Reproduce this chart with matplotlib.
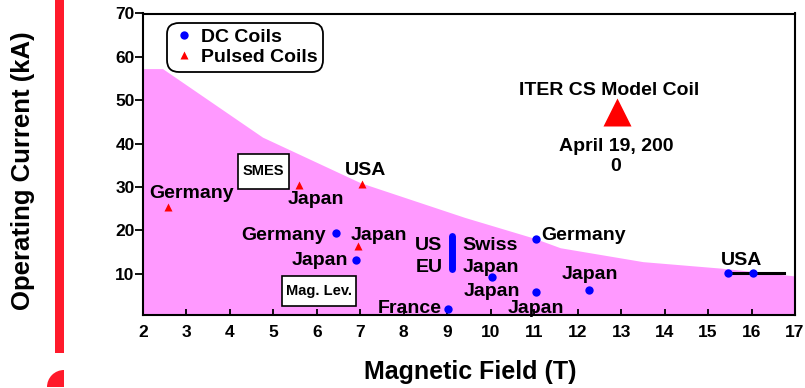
import matplotlib
matplotlib.use("Agg")
import matplotlib.pyplot as plt
from matplotlib.lines import Line2D
from matplotlib.patches import Rectangle, Wedge

plt.rcParams['font.family'] = ['Liberation Sans', 'DejaVu Sans']
plt.rcParams['font.weight'] = 'bold'

# Envelope of achieved conductor performance
envelope_field = [2.0, 2.45, 4.75, 7.0, 9.4, 11.0, 11.6, 13.5, 15.3, 17.0]
envelope_current = [57.3, 57.3, 41.5, 31.0, 23.0, 18.2, 16.0, 12.8, 11.3, 9.5]

# DC coils
dc_field = [6.43, 6.89, 9.02, 10.02, 11.03, 11.03, 12.25, 15.45, 16.03]
dc_current = [19.5, 13.1, 1.9, 9.2, 18.1, 5.8, 6.3, 10.2, 10.2]

# Pulsed coils
pulsed_field = [2.57, 5.59, 7.03, 6.95]
pulsed_current = [25.5, 30.5, 30.7, 16.3]

# ITER CS Model Coil
iter_field = [12.9]
iter_current = [47.3]

# US / EU range and USA extension line
us_eu_field = [9.1, 9.1]
us_eu_current = [11.0, 18.8]
usa_field = [15.45, 16.75]
usa_current = [10.2, 10.2]

x_ticks = list(range(2, 18))
y_ticks = [10, 20, 30, 40, 50, 60, 70]

W, H = 805, 388
fig = plt.figure(figsize=(W / 100, H / 100), dpi=100)
ax = fig.add_axes([143 / W, (H - 315) / H, (795 - 143) / W, (315 - 13.5) / H])

ax.fill_between(envelope_field, 0, envelope_current, color='#ff99ff', lw=0, zorder=1)

ax.plot(usa_field, usa_current, color='black', lw=2.2, zorder=3)
ax.plot(us_eu_field, us_eu_current, color='#0000ff', lw=5, solid_capstyle='round', zorder=3)
ax.plot(dc_field, dc_current, 'o', color='#0000ff', ms=6, mec='none', zorder=4)
ax.plot(pulsed_field, pulsed_current, '^', color='#ff0000', ms=6, mec='none', zorder=4)
ax.plot(iter_field, iter_current, '^', color='#ff0000', ms=20, mec='none', zorder=4)

fs = 14
labels = [
    ("Germany", 3.11, 27.5, 'center'),
    ("Japan", 5.98, 26.1, 'center'),
    ("USA", 7.13, 32.7, 'center'),
    ("Germany", 6.2, 17.85, 'right'),
    ("Japan", 6.77, 17.85, 'left'),
    ("Japan", 6.72, 12.1, 'right'),
    ("US", 8.89, 15.5, 'right'),
    ("EU", 8.89, 10.3, 'right'),
    ("Swiss", 9.35, 15.5, 'left'),
    ("Japan", 9.35, 10.3, 'left'),
    ("Japan", 10.02, 4.9, 'center'),
    ("Germany", 11.16, 17.7, 'left'),
    ("Japan", 11.05, 1.06, 'center'),
    ("Japan", 12.29, 8.77, 'center'),
    ("France", 8.87, 1.06, 'right'),
    ("USA", 15.77, 12.07, 'center'),
    ("ITER CS Model Coil", 12.73, 51.3, 'center'),
    ("April 19, 200", 12.88, 38.2, 'center'),
    ("0", 12.87, 33.8, 'center'),
]
for txt, x, y, ha in labels:
    ax.text(x, y, txt, ha=ha, va='baseline', fontsize=fs, fontweight='bold', zorder=5)

# Boxed application labels
ax.add_patch(Rectangle((4.19, 29.6), 1.166, 8.0, facecolor='white', edgecolor='black', lw=1.2, zorder=5))
ax.text(4.77, 33.6, "SMES", ha='center', va='center', fontsize=10.5, fontweight='bold', zorder=6)
ax.add_patch(Rectangle((5.19, 2.68), 1.70, 6.92, facecolor='white', edgecolor='black', lw=1.2, zorder=5))
ax.text(6.04, 6.1, "Mag. Lev.", ha='center', va='center', fontsize=10.5, fontweight='bold', zorder=6)

ax.set_xlim(2, 17)
ax.set_ylim(0.5, 70)
ax.set_xticks(x_ticks)
ax.set_yticks(y_ticks)
ax.tick_params(axis='x', direction='in', length=4.5, width=1.3, pad=7, labelsize=12.5)
ax.tick_params(axis='y', direction='out', length=5.5, width=1.3, pad=0.5, labelsize=12.5)
for lab in ax.get_xticklabels() + ax.get_yticklabels():
    lab.set_fontweight('bold')
for sp in ax.spines.values():
    sp.set_linewidth(1.5)

handles = [
    Line2D([], [], marker='o', color='#0000ff', ls='none', ms=6, mec='none'),
    Line2D([], [], marker='^', color='#ff0000', ls='none', ms=6, mec='none'),
]
leg = ax.legend(handles, ["DC Coils", "Pulsed Coils"], loc='upper left',
                bbox_to_anchor=(167 / W, 1 - 22.7 / H), bbox_transform=fig.transFigure,
                borderaxespad=0, borderpad=0.3, labelspacing=0.1, handlelength=1.1,
                handletextpad=0.35, frameon=True, fancybox=True, framealpha=1,
                edgecolor='black', prop={'size': fs, 'weight': 'bold'})
leg.get_frame().set_linewidth(1.3)
leg.get_frame().set_boxstyle('round,pad=0,rounding_size=0.6')
leg.set_zorder(7)

fig.text(23 / W, (H - 171) / H, "Operating Current (kA)", rotation=90, ha='center', va='center',
         fontsize=18.5, fontweight='bold')
fig.text(470 / W, (H - 372) / H, "Magnetic Field (T)", ha='center', va='center',
         fontsize=18, fontweight='bold')

# Red decorative bar and quarter disc on the left
fig.add_artist(Rectangle((55 / W, (H - 353) / H), 9 / W, 353 / H, transform=fig.transFigure,
                         facecolor='#ff1a2b', edgecolor='none'))
fig.add_artist(Wedge((64, 1), 17, 90, 180, transform=None, facecolor='#ff1a2b', edgecolor='none'))

fig.savefig("out.png", dpi=100)
